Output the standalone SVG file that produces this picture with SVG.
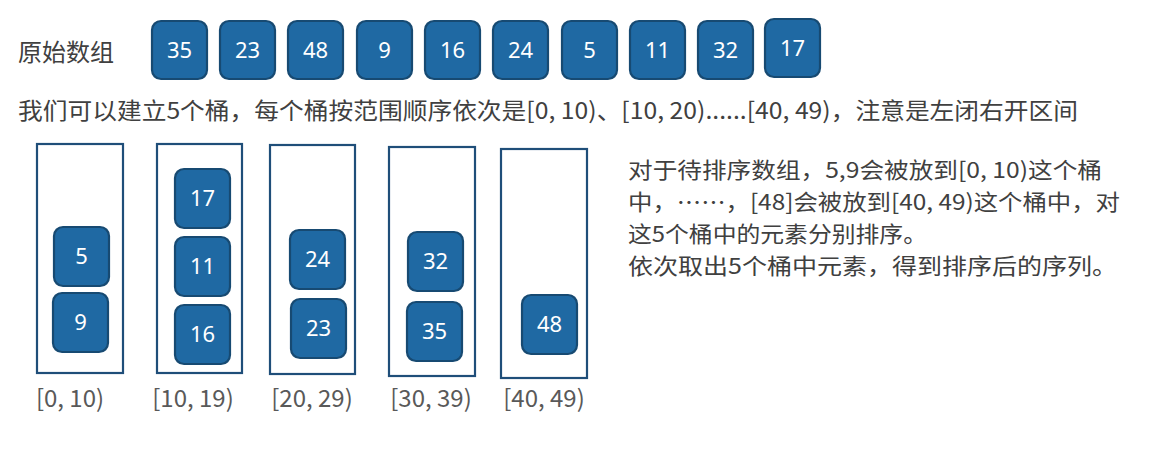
<svg xmlns="http://www.w3.org/2000/svg" width="1170" height="464" viewBox="0 0 1170 464">
<style>
.t{font-family:"Noto Sans CJK SC","Noto Sans",sans-serif;font-size:24px;fill:#404040}
.p{font-family:"Noto Sans CJK SC","Noto Sans",sans-serif;font-size:22px;fill:#404040}
.lb{font-family:"Noto Sans CJK SC","Noto Sans",sans-serif;font-size:24px;fill:#595959;text-anchor:middle}
.bx{fill:#1f69a3;stroke:#174a72;stroke-width:2.2}
.n{font-family:"Noto Sans","Open Sans",sans-serif;font-size:22px;fill:#ffffff;text-anchor:middle}
.bk{fill:none;stroke:#1f4e79;stroke-width:2.2}
</style>
<rect width="1170" height="464" fill="#ffffff"/>
<g id="title"><text class="t" x="18" y="61">原始数组</text></g>
<g id="desc1"><text class="t" x="18" y="119" style="font-size:23px" textLength="1060" lengthAdjust="spacingAndGlyphs">我们可以建立5个桶，每个桶按范围顺序依次是[0, 10)、[10, 20)......[40, 49)，注意是左闭右开区间</text></g>
<g id="array">
<g id="a35"><rect class="bx" x="152" y="21" width="55" height="58" rx="9"/><text class="n" x="179.5" y="58">35</text></g>
<g id="a23"><rect class="bx" x="220" y="21" width="55" height="58" rx="9"/><text class="n" x="247.5" y="58">23</text></g>
<g id="a48"><rect class="bx" x="288" y="21" width="55" height="58" rx="9"/><text class="n" x="315.5" y="58">48</text></g>
<g id="a9"><rect class="bx" x="357" y="21" width="55" height="58" rx="9"/><text class="n" x="384.5" y="58">9</text></g>
<g id="a16"><rect class="bx" x="425" y="21" width="55" height="58" rx="9"/><text class="n" x="452.5" y="58">16</text></g>
<g id="a24"><rect class="bx" x="493" y="21" width="55" height="58" rx="9"/><text class="n" x="520.5" y="58">24</text></g>
<g id="a5"><rect class="bx" x="562" y="21" width="55" height="58" rx="9"/><text class="n" x="589.5" y="58">5</text></g>
<g id="a11"><rect class="bx" x="630" y="21" width="55" height="58" rx="9"/><text class="n" x="657.5" y="58">11</text></g>
<g id="a32"><rect class="bx" x="698" y="21" width="55" height="58" rx="9"/><text class="n" x="725.5" y="58">32</text></g>
<g id="a17"><rect class="bx" x="765" y="19" width="55" height="58" rx="9"/><text class="n" x="792.5" y="56">17</text></g>
</g>
<g id="bucket1"><rect class="bk" x="37" y="144" width="86" height="229"/>
<g><rect class="bx" x="54" y="227" width="55" height="59" rx="9"/><text class="n" x="81.5" y="264">5</text></g>
<g><rect class="bx" x="53" y="293" width="55" height="59" rx="9"/><text class="n" x="80.5" y="330">9</text></g>
<text class="lb" x="70" y="407">[0, 10)</text></g>
<g id="bucket2"><rect class="bk" x="157" y="144" width="85" height="229"/>
<g><rect class="bx" x="175" y="169" width="55" height="59" rx="9"/><text class="n" x="202.5" y="206">17</text></g>
<g><rect class="bx" x="175" y="237" width="55" height="59" rx="9"/><text class="n" x="202.5" y="274">11</text></g>
<g><rect class="bx" x="175" y="305" width="55" height="59" rx="9"/><text class="n" x="202.5" y="342">16</text></g>
<text class="lb" x="193" y="407">[10, 19)</text></g>
<g id="bucket3"><rect class="bk" x="270" y="145" width="85" height="229"/>
<g><rect class="bx" x="290" y="230" width="55" height="59" rx="9"/><text class="n" x="317.5" y="267">24</text></g>
<g><rect class="bx" x="291" y="299" width="55" height="59" rx="9"/><text class="n" x="318.5" y="336">23</text></g>
<text class="lb" x="312" y="407">[20, 29)</text></g>
<g id="bucket4"><rect class="bk" x="389" y="147" width="86" height="229"/>
<g><rect class="bx" x="408" y="232" width="55" height="59" rx="9"/><text class="n" x="435.5" y="269">32</text></g>
<g><rect class="bx" x="407" y="302" width="55" height="59" rx="9"/><text class="n" x="434.5" y="339">35</text></g>
<text class="lb" x="431" y="407">[30, 39)</text></g>
<g id="bucket5"><rect class="bk" x="501" y="149" width="86" height="229"/>
<g><rect class="bx" x="522" y="295" width="55" height="59" rx="9"/><text class="n" x="549.5" y="332">48</text></g>
<text class="lb" x="544" y="407">[40, 49)</text></g>
<g id="connectors"/>
<g id="explain">
<text class="p" x="628" y="178" textLength="474" lengthAdjust="spacingAndGlyphs">对于待排序数组，5,9会被放到[0, 10)这个桶</text>
<text class="p" x="628" y="210" textLength="492" lengthAdjust="spacingAndGlyphs">中，……，[48]会被放到[40, 49)这个桶中，对</text>
<text class="p" x="628" y="242" textLength="299" lengthAdjust="spacingAndGlyphs">这5个桶中的元素分别排序。</text>
<text class="p" x="628" y="274" textLength="489" lengthAdjust="spacingAndGlyphs">依次取出5个桶中元素，得到排序后的序列。</text>
</g>
</svg>
